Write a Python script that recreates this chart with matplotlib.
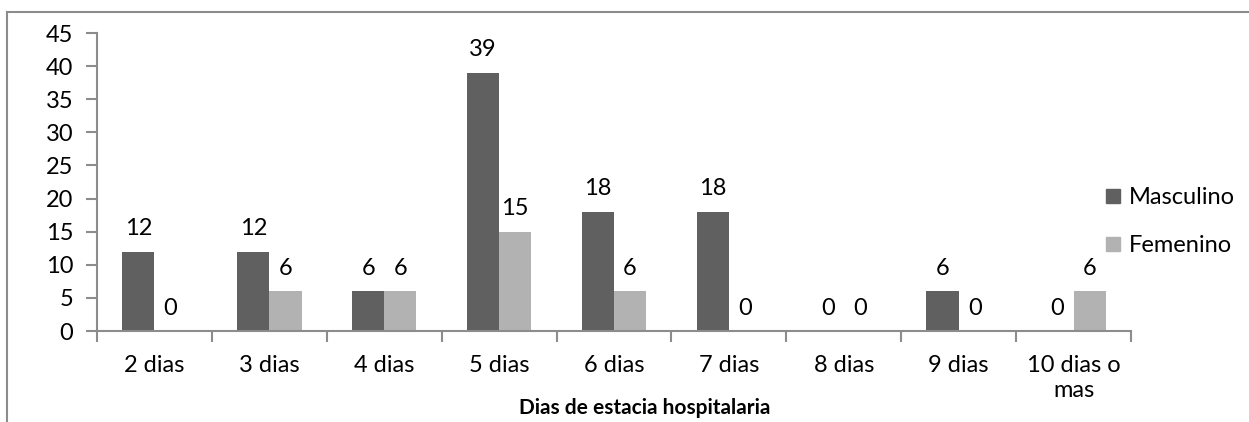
import matplotlib.pyplot as plt
import numpy as np
from matplotlib.lines import Line2D

plt.rcParams['font.family'] = ['Lato', 'DejaVu Sans']

categorias = ['2 dias', '3 dias', '4 dias', '5 dias', '6 dias', '7 dias',
              '8 dias', '9 dias', '10 dias o\nmas']
masculino = [12, 12, 6, 39, 18, 18, 0, 6, 0]
femenino = [0, 6, 6, 15, 6, 0, 0, 0, 6]

c_masc = '#606060'
c_fem = '#b2b2b2'
gris = '#8c8c8c'
fs = 17

fig = plt.figure(figsize=(12.49, 4.22), dpi=100)
ax = fig.add_axes([0.0777, 0.2156, 0.8278, 0.7062])

x = np.arange(len(categorias))
w = 0.28
b1 = ax.bar(x - w / 2, masculino, w, color=c_masc, label='Masculino')
b2 = ax.bar(x + w / 2, femenino, w, color=c_fem, label='Femenino')

for barras in (b1, b2):
    for b in barras:
        ax.annotate(str(int(b.get_height())),
                    (b.get_x() + b.get_width() / 2, b.get_height()),
                    xytext=(0, 9), textcoords='offset points',
                    ha='center', va='bottom', fontsize=fs)

ax.set_xlim(-0.5, len(categorias) - 0.5)
ax.set_ylim(0, 45)
ax.set_yticks(range(0, 46, 5))
ax.set_xticks(x)
ax.set_xticklabels(categorias, fontsize=fs, linespacing=1.25)
ax.set_xticks(np.arange(-0.5, len(categorias)), minor=True)
ax.tick_params(axis='x', which='major', length=0, pad=17)
ax.tick_params(axis='x', which='minor', length=8, color=gris, width=1.5)
ax.tick_params(axis='y', length=8, color=gris, width=1.5, pad=9, labelsize=fs)

for s in ['top', 'right']:
    ax.spines[s].set_visible(False)
for s in ['left', 'bottom']:
    ax.spines[s].set_color(gris)
    ax.spines[s].set_linewidth(1.5)

fig.text(645 / 1249, 1 - 408 / 422, 'Dias de estacia hospitalaria',
         ha='center', va='center', fontsize=15, fontweight='bold')

handles = [Line2D([], [], marker='s', linestyle='', markersize=10.5,
                  color=c_masc),
           Line2D([], [], marker='s', linestyle='', markersize=10.5,
                  color=c_fem)]
fig.legend(handles, ['Masculino', 'Femenino'], loc='center left',
           bbox_to_anchor=(0.865, 0.475), frameon=False, fontsize=fs,
           handletextpad=0.15, labelspacing=1.15, handlelength=1.0)

# marco exterior (solo lados visibles)
fig.add_artist(Line2D([7 / 1249, 1], [1 - 11.5 / 422, 1 - 11.5 / 422],
                      color=gris, lw=1.5, transform=fig.transFigure))
fig.add_artist(Line2D([7 / 1249, 7 / 1249], [0, 1 - 11.5 / 422],
                      color=gris, lw=1.5, transform=fig.transFigure))

fig.savefig('out.png', dpi=100)
